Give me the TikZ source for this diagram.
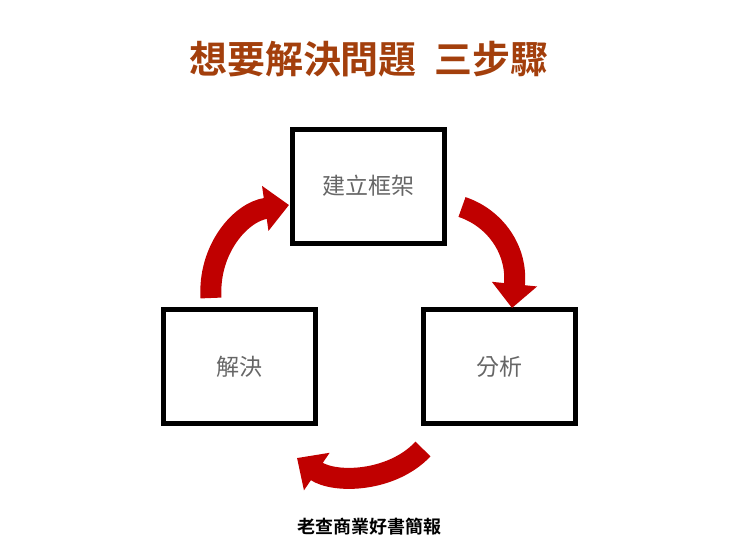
\documentclass[tikz,border=0pt]{standalone}
\usepackage{fontspec}
\newfontfamily\cjk{Noto Sans CJK TC}
\newfontfamily\cjkb{Noto Sans CJK TC Bold}
\usetikzlibrary{arrows.meta}
\definecolor{ttl}{HTML}{A33F0C}
\definecolor{arr}{HTML}{C00000}
\begin{document}
\begin{tikzpicture}[x=1pt,y=-1pt,
  box/.style={draw=black,line width=5pt,minimum width=152pt,minimum height=114pt,inner sep=0pt,font=\cjk\fontsize{23}{23}\selectfont,text=black!60},
  band/.style={draw=arr,line width=21pt,-{Triangle[length=24pt,width=44pt]}}]
\useasboundingbox (0,0) rectangle (740,558);
\node[font=\cjkb\fontsize{38}{38}\selectfont,text=ttl] (title) at (369,59) {想要解決問題\hspace{18pt}三步驟};
\node[box] (top) at (368,186) {建立框架};
\node[box] (left) at (239.5,366.5) {解決};
\node[box] (right) at (499,366.5) {分析};
\node[font=\cjkb\fontsize{18}{18}\selectfont] (foot) at (369,527) {老查商業好書簡報};
\coordinate (a1) at (462,207);
\coordinate (a2) at (512,308);
\draw[band] (a1) .. controls (495,218) and (518,250) .. (a2);
\coordinate (b1) at (211,298);
\coordinate (b2) at (289,205);
\draw[band] (b1) .. controls (208,250) and (240,212) .. (b2);
\coordinate (c1) at (423,449);
\coordinate (c2) at (297,458);
\draw[band] (c1) .. controls (392,482) and (335,484) .. (c2);
\end{tikzpicture}
\end{document}
